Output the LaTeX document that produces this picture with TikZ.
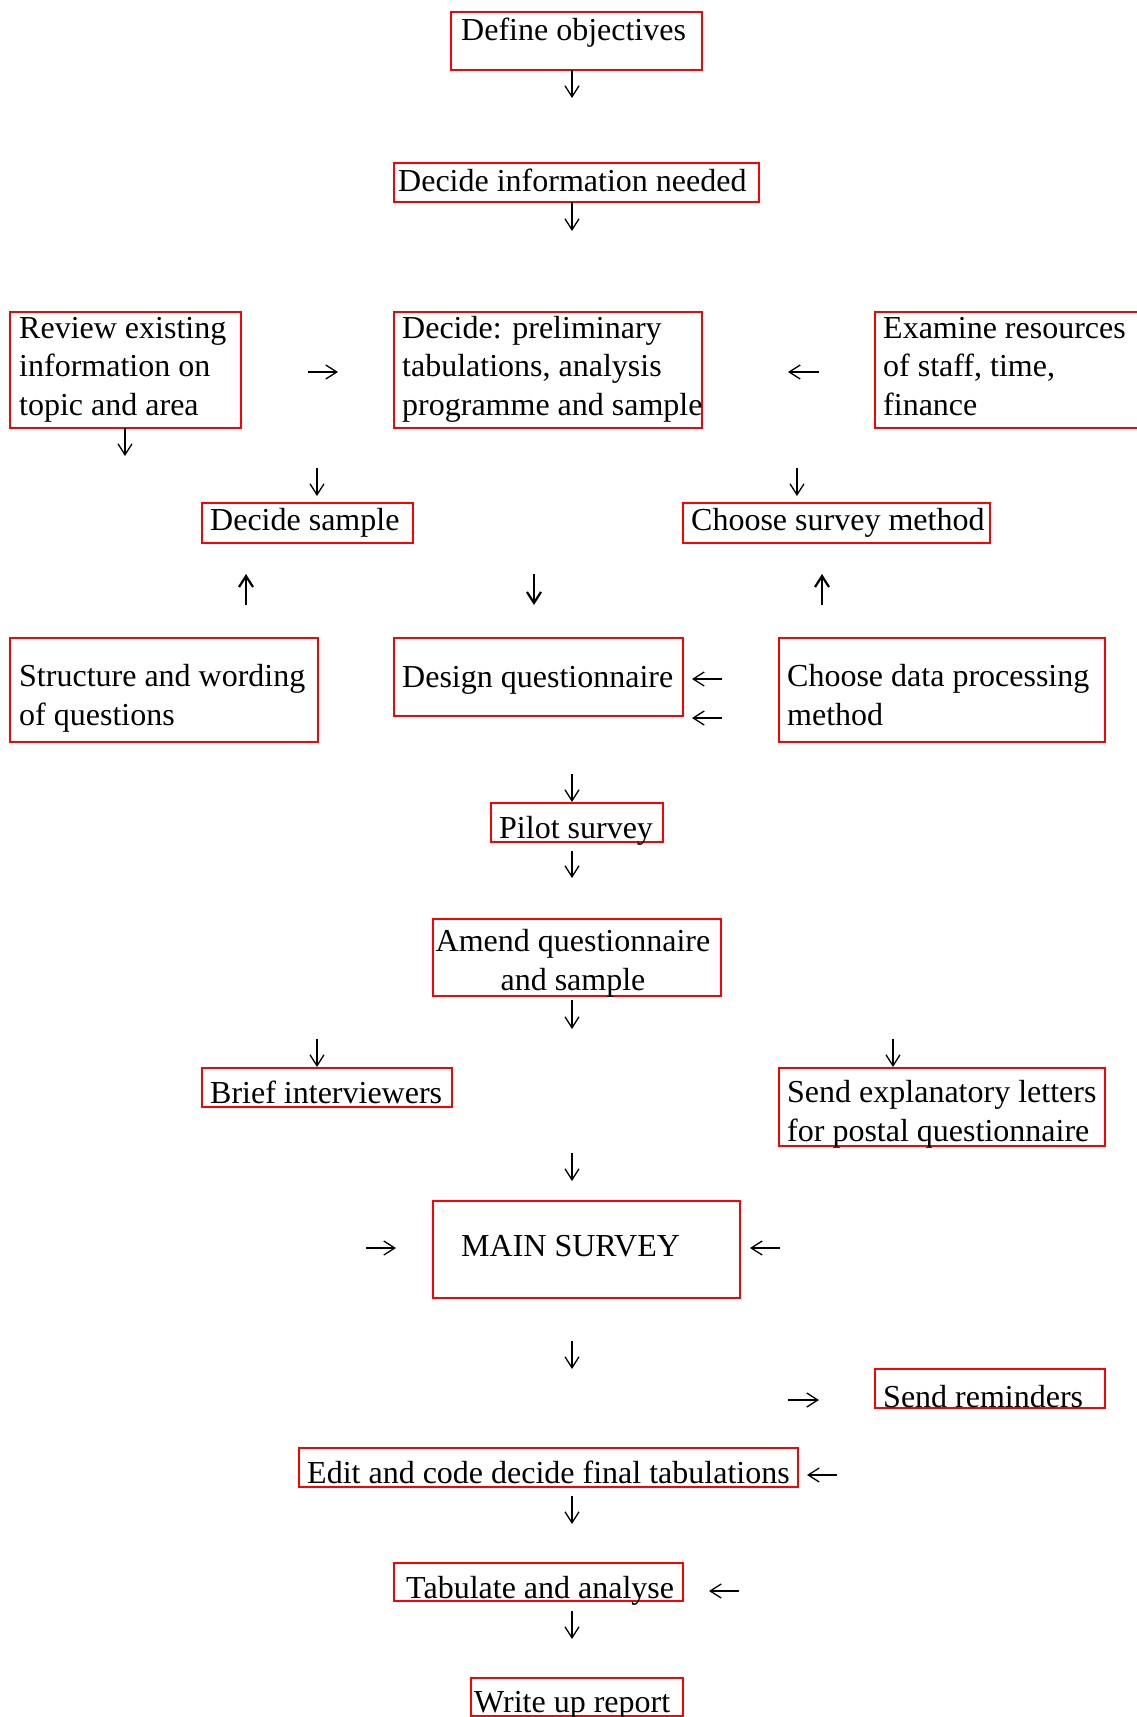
\documentclass[tikz,border=0pt]{standalone}
\usepackage{fontspec}
\setmainfont{Liberation Serif}
\usetikzlibrary{arrows.meta}

\tikzset{
  box/.style={draw=red, line width=2pt, anchor=north west, inner sep=0pt},
  txt/.style={anchor=base west, inner sep=0pt, align=left, font=\fontsize{32}{38.5}\selectfont},
  arr/.style={line width=1.3pt, -{Straight Barb[length=11pt,width=14pt]}},
  arrbold/.style={line width=2.2pt, -{Straight Barb[length=11pt,width=14pt]}},
}

\begin{document}
\begin{tikzpicture}[x=1pt, y=-1pt]
  \useasboundingbox (0,0) rectangle (1136,1717);

  % Boxes
  \node[box, minimum width=251pt, minimum height=58pt] (define) at (450,11) {};
  \node[box, minimum width=365pt, minimum height=39pt] (info) at (393,162) {};
  \node[box, minimum width=231pt, minimum height=116pt] (review) at (9,311) {};
  \node[box, minimum width=308pt, minimum height=116pt] (prelim) at (393,311) {};
  \node[box, minimum width=280pt, minimum height=116pt] (examine) at (874,311) {};
  \node[box, minimum width=211pt, minimum height=40pt] (dsample) at (201,502) {};
  \node[box, minimum width=307pt, minimum height=40pt] (csurvey) at (682,502) {};
  \node[box, minimum width=308pt, minimum height=104pt] (structure) at (9,637) {};
  \node[box, minimum width=289pt, minimum height=78pt] (design) at (393,637) {};
  \node[box, minimum width=326pt, minimum height=104pt] (cdata) at (778,637) {};
  \node[box, minimum width=172pt, minimum height=39pt] (pilot) at (490,802) {};
  \node[box, minimum width=288pt, minimum height=77pt] (amend) at (432,918) {};
  \node[box, minimum width=250pt, minimum height=39pt] (brief) at (201,1067) {};
  \node[box, minimum width=326pt, minimum height=78pt] (sendexp) at (778,1067) {};
  \node[box, minimum width=307pt, minimum height=97pt] (main) at (432,1200) {};
  \node[box, minimum width=230pt, minimum height=39pt] (remind) at (874,1368) {};
  \node[box, minimum width=499pt, minimum height=39pt] (edit) at (298,1447) {};
  \node[box, minimum width=289pt, minimum height=38pt] (tabulate) at (393,1562) {};
  \node[box, minimum width=212pt, minimum height=38pt] (writeup) at (470,1677) {};

  % Texts (multi-line texts sit on the baseline of their last line)
  \node[txt] (define-t) at (461,40) {Define objectives};
  \node[txt] (info-t) at (398,191) {Decide information needed};
  \node[txt] (review-t) at (19,415) {Review existing\\information on\\topic and area};
  \node[txt] (prelim-t) at (402,415) {Decide: preliminary\\tabulations, analysis\\programme and sample};
  \node[txt] (examine-t) at (883,415) {Examine resources\\of staff, time,\\finance};
  \node[txt] (dsample-t) at (210,530) {Decide sample};
  \node[txt] (csurvey-t) at (691,530) {Choose survey method};
  \node[txt] (structure-t) at (19,725) {Structure and wording\\of questions};
  \node[txt] (design-t) at (402,687) {Design questionnaire};
  \node[txt] (cdata-t) at (787,725) {Choose data processing\\method};
  \node[txt] (pilot-t) at (499,838) {Pilot survey};
  \node[txt, anchor=base, align=center] (amend-t) at (573,990) {Amend questionnaire\\and sample};
  \node[txt] (brief-t) at (210,1103) {Brief interviewers};
  \node[txt] (sendexp-t) at (787,1141) {Send explanatory letters\\for postal questionnaire};
  \node[txt] (main-t) at (461,1256) {MAIN SURVEY};
  \node[txt] (remind-t) at (883,1407) {Send reminders};
  \node[txt] (edit-t) at (307,1483) {Edit and code decide final tabulations};
  \node[txt] (tabulate-t) at (406,1598) {Tabulate and analyse};
  \node[txt] (writeup-t) at (474,1712) {Write up report};

  % Arrow coordinates
  \coordinate (p1) at (572,70);    \coordinate (q1) at (572,98);
  \coordinate (p2) at (572,202);   \coordinate (q2) at (572,231);
  \coordinate (p3) at (308,372);   \coordinate (q3) at (338,372);
  \coordinate (p4) at (819,372);   \coordinate (q4) at (788,372);
  \coordinate (p5) at (125,428);   \coordinate (q5) at (125,456);
  \coordinate (p6) at (317,468);   \coordinate (q6) at (317,496);
  \coordinate (p7) at (797,468);   \coordinate (q7) at (797,496);
  \coordinate (p8) at (246,605);   \coordinate (q8) at (246,574);
  \coordinate (p9) at (534,574);   \coordinate (q9) at (534,605);
  \coordinate (p10) at (822,605);  \coordinate (q10) at (822,574);
  \coordinate (p11) at (722,679);  \coordinate (q11) at (692,679);
  \coordinate (p12) at (722,718);  \coordinate (q12) at (692,718);
  \coordinate (p13) at (572,774);  \coordinate (q13) at (572,802);
  \coordinate (p14) at (572,851);  \coordinate (q14) at (572,878);
  \coordinate (p15) at (572,1000); \coordinate (q15) at (572,1029);
  \coordinate (p16) at (317,1039); \coordinate (q16) at (317,1067);
  \coordinate (p17) at (893,1039); \coordinate (q17) at (893,1067);
  \coordinate (p18) at (572,1153); \coordinate (q18) at (572,1181);
  \coordinate (p19) at (366,1248); \coordinate (q19) at (396,1248);
  \coordinate (p20) at (780,1248); \coordinate (q20) at (750,1248);
  \coordinate (p21) at (572,1341); \coordinate (q21) at (572,1369);
  \coordinate (p22) at (788,1400); \coordinate (q22) at (819,1400);
  \coordinate (p23) at (837,1475); \coordinate (q23) at (807,1475);
  \coordinate (p24) at (572,1496); \coordinate (q24) at (572,1524);
  \coordinate (p25) at (739,1591); \coordinate (q25) at (709,1591);
  \coordinate (p26) at (572,1611); \coordinate (q26) at (572,1639);

  % Arrows
  \draw[arr] (p1) -- (q1);
  \draw[arr] (p2) -- (q2);
  \draw[arr] (p3) -- (q3);
  \draw[arr] (p4) -- (q4);
  \draw[arr] (p5) -- (q5);
  \draw[arr] (p6) -- (q6);
  \draw[arr] (p7) -- (q7);
  \draw[arrbold] (p8) -- (q8);
  \draw[arrbold] (p9) -- (q9);
  \draw[arrbold] (p10) -- (q10);
  \draw[arr] (p11) -- (q11);
  \draw[arr] (p12) -- (q12);
  \draw[arr] (p13) -- (q13);
  \draw[arr] (p14) -- (q14);
  \draw[arr] (p15) -- (q15);
  \draw[arr] (p16) -- (q16);
  \draw[arr] (p17) -- (q17);
  \draw[arr] (p18) -- (q18);
  \draw[arr] (p19) -- (q19);
  \draw[arr] (p20) -- (q20);
  \draw[arr] (p21) -- (q21);
  \draw[arr] (p22) -- (q22);
  \draw[arr] (p23) -- (q23);
  \draw[arr] (p24) -- (q24);
  \draw[arr] (p25) -- (q25);
  \draw[arr] (p26) -- (q26);
\end{tikzpicture}
\end{document}
